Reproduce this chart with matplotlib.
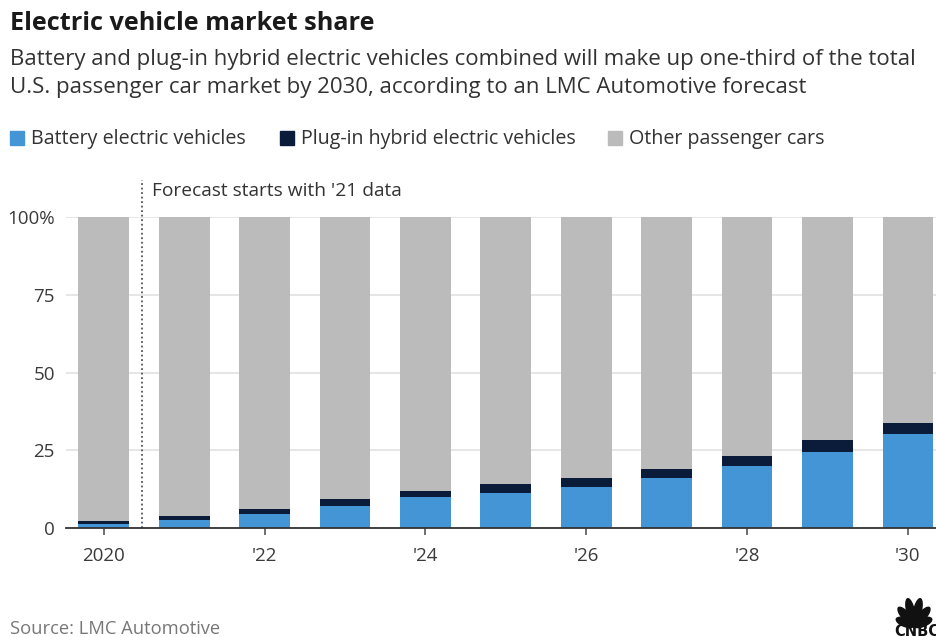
import numpy as np
import matplotlib.pyplot as plt
from matplotlib.patches import Rectangle, Ellipse

plt.rcParams['font.family'] = ['Open Sans', 'DejaVu Sans']

# Market share (%) by year
years = np.arange(2020, 2031)
bev = [1.4, 2.7, 4.6, 7.2, 9.9, 11.4, 13.3, 16.0, 19.8, 24.4, 30.1]
phev = [0.8, 1.0, 1.5, 2.0, 2.0, 2.6, 2.7, 3.1, 3.5, 3.8, 3.8]
tick_years = [2020, 2022, 2024, 2026, 2028, 2030]
tick_labels = ['2020', "'22", "'24", "'26", "'28", "'30"]
series_names = ['Battery electric vehicles', 'Plug-in hybrid electric vehicles',
                'Other passenger cars']

c_bev = '#4495d6'
c_phev = '#0b1c3a'
c_other = '#bbbbbb'

bev = np.array(bev)
phev = np.array(phev)
other = 100 - bev - phev

W, H = 936, 637
fig = plt.figure(figsize=(W / 100, H / 100), dpi=100)
ax = fig.add_axes([66 / W, 1 - 528 / H, 1 - 66 / W, (528 - 217) / H])

bw = 0.63
ax.bar(years, bev, bw, color=c_bev, zorder=3)
ax.bar(years, phev, bw, bottom=bev, color=c_phev, zorder=3)
ax.bar(years, other, bw, bottom=bev + phev, color=c_other, zorder=3)

ax.set_xlim(2019.53, 2030.35)
ax.set_ylim(0, 100)
ax.set_yticks([0, 25, 50, 75, 100])
ax.set_yticklabels(['0', '25', '50', '75', '100%'])
ax.set_xticks(tick_years)
ax.set_xticklabels(tick_labels)
ax.yaxis.grid(True, color='#e2e2e2', linewidth=1.2, zorder=0)
ax.tick_params(axis='y', length=0, pad=8, labelsize=13.5, labelcolor='#3a3a3a')
ax.tick_params(axis='x', length=5, width=1.2, color='#555555', pad=9,
               labelsize=13.5, labelcolor='#3a3a3a')
for s in ['top', 'right', 'left']:
    ax.spines[s].set_visible(False)
ax.spines['bottom'].set_color('#333333')
ax.spines['bottom'].set_linewidth(1.3)
ax.spines['bottom'].set_zorder(4)

# forecast marker
ax.plot([2020.47, 2020.47], [0, 112], ls=(0, (1, 1.5)), color='#555555',
        lw=1.3, clip_on=False, zorder=4)
ax.text(2020.6, 108.5, "Forecast starts with '21 data", fontsize=13.8,
        color='#333333', va='center', ha='left')

# header
fig.text(10 / W, 1 - 23 / H, 'Electric vehicle market share', fontsize=18.2,
         fontweight='bold', color='#1a1a1a', va='center', ha='left')
fig.text(10 / W, 1 - 60 / H,
         'Battery and plug-in hybrid electric vehicles combined will make up one-third of the total',
         fontsize=16, color='#333333', va='center', ha='left')
fig.text(10 / W, 1 - 88 / H,
         'U.S. passenger car market by 2030, according to an LMC Automotive forecast',
         fontsize=16, color='#333333', va='center', ha='left')

# legend
leg_x = [10, 280, 608]
for x0, name, col in zip(leg_x, series_names, [c_bev, c_phev, c_other]):
    fig.patches.append(Rectangle((x0 / W, 1 - 145 / H), 14 / W, 14 / H,
                                 transform=fig.transFigure, color=col))
    fig.text((x0 + 21) / W, 1 - 139 / H, name, fontsize=14.1, color='#333333',
             va='center', ha='left')

fig.text(10 / W, 1 - 629 / H, 'Source: LMC Automotive', fontsize=13.2,
         color='#777777', va='center', ha='left')

# network logo, bottom right corner (pixel coordinates)
lg = fig.add_axes([880 / W, 0, 56 / W, 47 / H])
lg.set_xlim(880, 936)
lg.set_ylim(637, 590)
lg.axis('off')
bx, by = 914, 626
for ang, ln in zip([-68, -40, -13, 13, 40, 68], [19, 24, 28, 28, 24, 19]):
    t = np.deg2rad(ang)
    cx = bx + np.sin(t) * ln * 0.5
    cy = by - np.cos(t) * ln * 0.5
    lg.add_patch(Ellipse((cx, cy), 8, ln, angle=ang, color='#111111'))
lg.text(894, 632, 'CNBC', fontsize=10.5, fontweight='bold', color='#111111',
        family='DejaVu Sans', va='center', ha='left', clip_on=False)

fig.savefig('out.png', dpi=100)
